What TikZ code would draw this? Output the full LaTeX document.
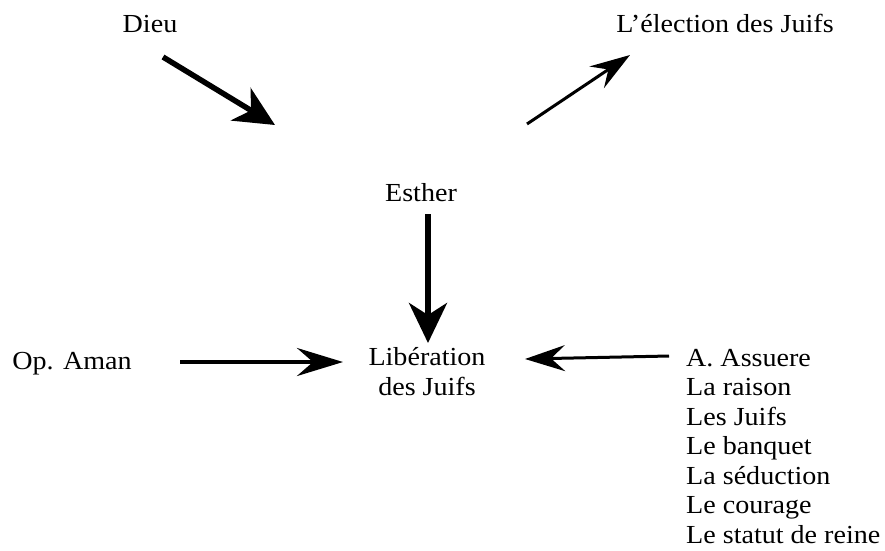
\documentclass[tikz,border=0pt]{standalone}
\usepackage{fontspec}
\setmainfont{Liberation Serif}[FakeStretch=1.08]
\usetikzlibrary{arrows.meta}
\begin{document}
\begin{tikzpicture}[x=1pt,y=-1pt,
  lbl/.style={inner sep=0pt,anchor=base,font=\fontsize{26}{29.5}\selectfont},
  heavy/.style={line width=5.5pt,-{Stealth[length=40pt,width=38pt,inset=12pt]}},
  medium/.style={line width=4pt,-{Stealth[length=46pt,width=28pt,inset=16pt]}},
  light/.style={line width=3pt,-{Stealth[length=40pt,width=26pt,inset=14pt]}}]
\useasboundingbox (0,0) rectangle (885,550);
\node[lbl] (dieu) at (150,32) {Dieu};
\node[lbl] (elec) at (725,32) {L’élection des Juifs};
\node[lbl] (esther) at (421,201) {Esther};
\node[lbl,align=center] (lib) at (427,395) {Libération\\des Juifs};
\node[lbl] (aman) at (72,369) {Op. Aman};
\node[lbl,align=left,anchor=base west] (list) at (686,543) {A. Assuere\\La raison\\Les Juifs\\Le banquet\\La séduction\\Le courage\\Le statut de reine};
\coordinate (d1) at (163,57);
\coordinate (d2) at (275,125);
\coordinate (e1) at (527,124);
\coordinate (e2) at (630,55);
\coordinate (s1) at (428,214);
\coordinate (s2) at (428,343);
\coordinate (a1) at (180,362);
\coordinate (a2) at (343,362);
\coordinate (r1) at (669,356);
\coordinate (r2) at (525,359);
\draw[heavy] (d1) -- (d2);
\draw[light] (e1) -- (e2);
\draw[heavy] (s1) -- (s2);
\draw[medium] (a1) -- (a2);
\draw[light] (r1) -- (r2);
\end{tikzpicture}
\end{document}
